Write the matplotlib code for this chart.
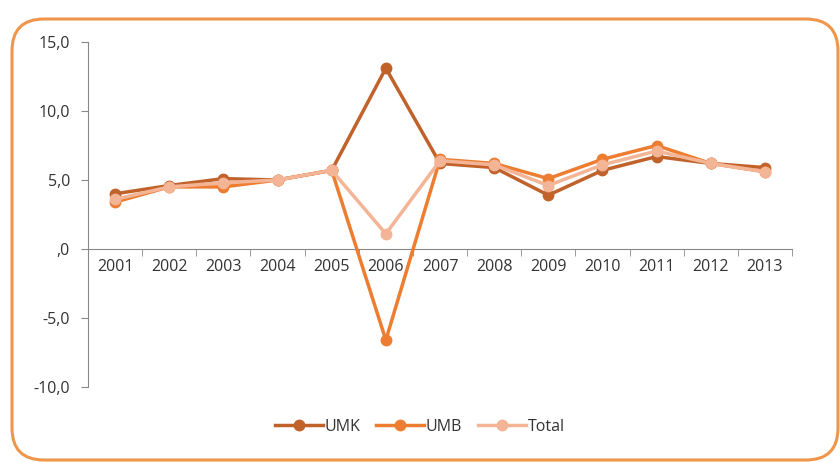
import matplotlib
matplotlib.use("Agg")
import matplotlib.pyplot as plt
from matplotlib.patches import FancyBboxPatch
from matplotlib.transforms import IdentityTransform
from matplotlib.ticker import FixedLocator, NullFormatter

years = ["2001", "2002", "2003", "2004", "2005", "2006", "2007",
         "2008", "2009", "2010", "2011", "2012", "2013"]
umk = [4.0, 4.6, 5.1, 5.0, 5.7, 13.1, 6.2, 5.9, 3.9, 5.7, 6.7, 6.2, 5.9]
umb = [3.4, 4.5, 4.5, 5.0, 5.7, -6.6, 6.5, 6.2, 5.1, 6.5, 7.5, 6.2, 5.6]
total = [3.6, 4.5, 4.8, 5.0, 5.7, 1.1, 6.4, 6.1, 4.6, 6.1, 7.1, 6.2, 5.6]
yticks = [-10, -5, 0, 5, 10, 15]
ytick_labels = ["-10,0", "-5,0", ",0", "5,0", "10,0", "15,0"]

plt.rcParams['font.family'] = ['Open Sans', 'DejaVu Sans']

fig = plt.figure(figsize=(8.4, 4.62), dpi=100)
ax = fig.add_axes([88/840, 1-387/462, (792-88)/840, (387-42)/462])

x = list(range(len(years)))
ax.plot(x, umk, color="#C0622A", lw=2.5, marker="o", ms=7.5, label="UMK", zorder=3)
ax.plot(x, umb, color="#ED7D31", lw=2.5, marker="o", ms=7.5, label="UMB", zorder=4)
ax.plot(x, total, color="#F4B496", lw=2.5, marker="o", ms=7.5, label="Total", zorder=5)

ax.set_xlim(-0.5, len(years) - 0.5)
ax.set_ylim(-10, 15)
ax.set_yticks(yticks)
ax.set_yticklabels(ytick_labels)
ax.set_xticks(x)
ax.set_xticklabels(years)
ax.xaxis.set_minor_locator(FixedLocator([i + 0.5 for i in range(-1, len(years))]))
ax.xaxis.set_minor_formatter(NullFormatter())
ax.tick_params(axis='x', which='major', length=0, pad=7, labelsize=11.5, colors="#333333")
ax.tick_params(axis='x', which='minor', length=5, color="#888888", direction='out')
ax.tick_params(axis='y', length=5, color="#888888", labelsize=11.5, labelcolor="#333333", pad=8)

for s in ["top", "right"]:
    ax.spines[s].set_visible(False)
ax.spines["bottom"].set_position(("data", 0))
ax.spines["bottom"].set_color("#888888")
ax.spines["left"].set_color("#888888")

leg = fig.legend(loc="center", bbox_to_anchor=(0.5, 1 - 427/462), ncol=3, frameon=False,
                 fontsize=11.5, handlelength=3.0, columnspacing=1.0, handletextpad=0.1,
                 labelcolor="#333333")

frame = FancyBboxPatch((12, 2), 826, 462 - 19 - 2,
                       boxstyle="round,pad=0,rounding_size=32",
                       transform=IdentityTransform(), fill=False,
                       edgecolor="#F0964A", lw=2.2, clip_on=False)
fig.patches.append(frame)

fig.savefig("out.png", dpi=100)
